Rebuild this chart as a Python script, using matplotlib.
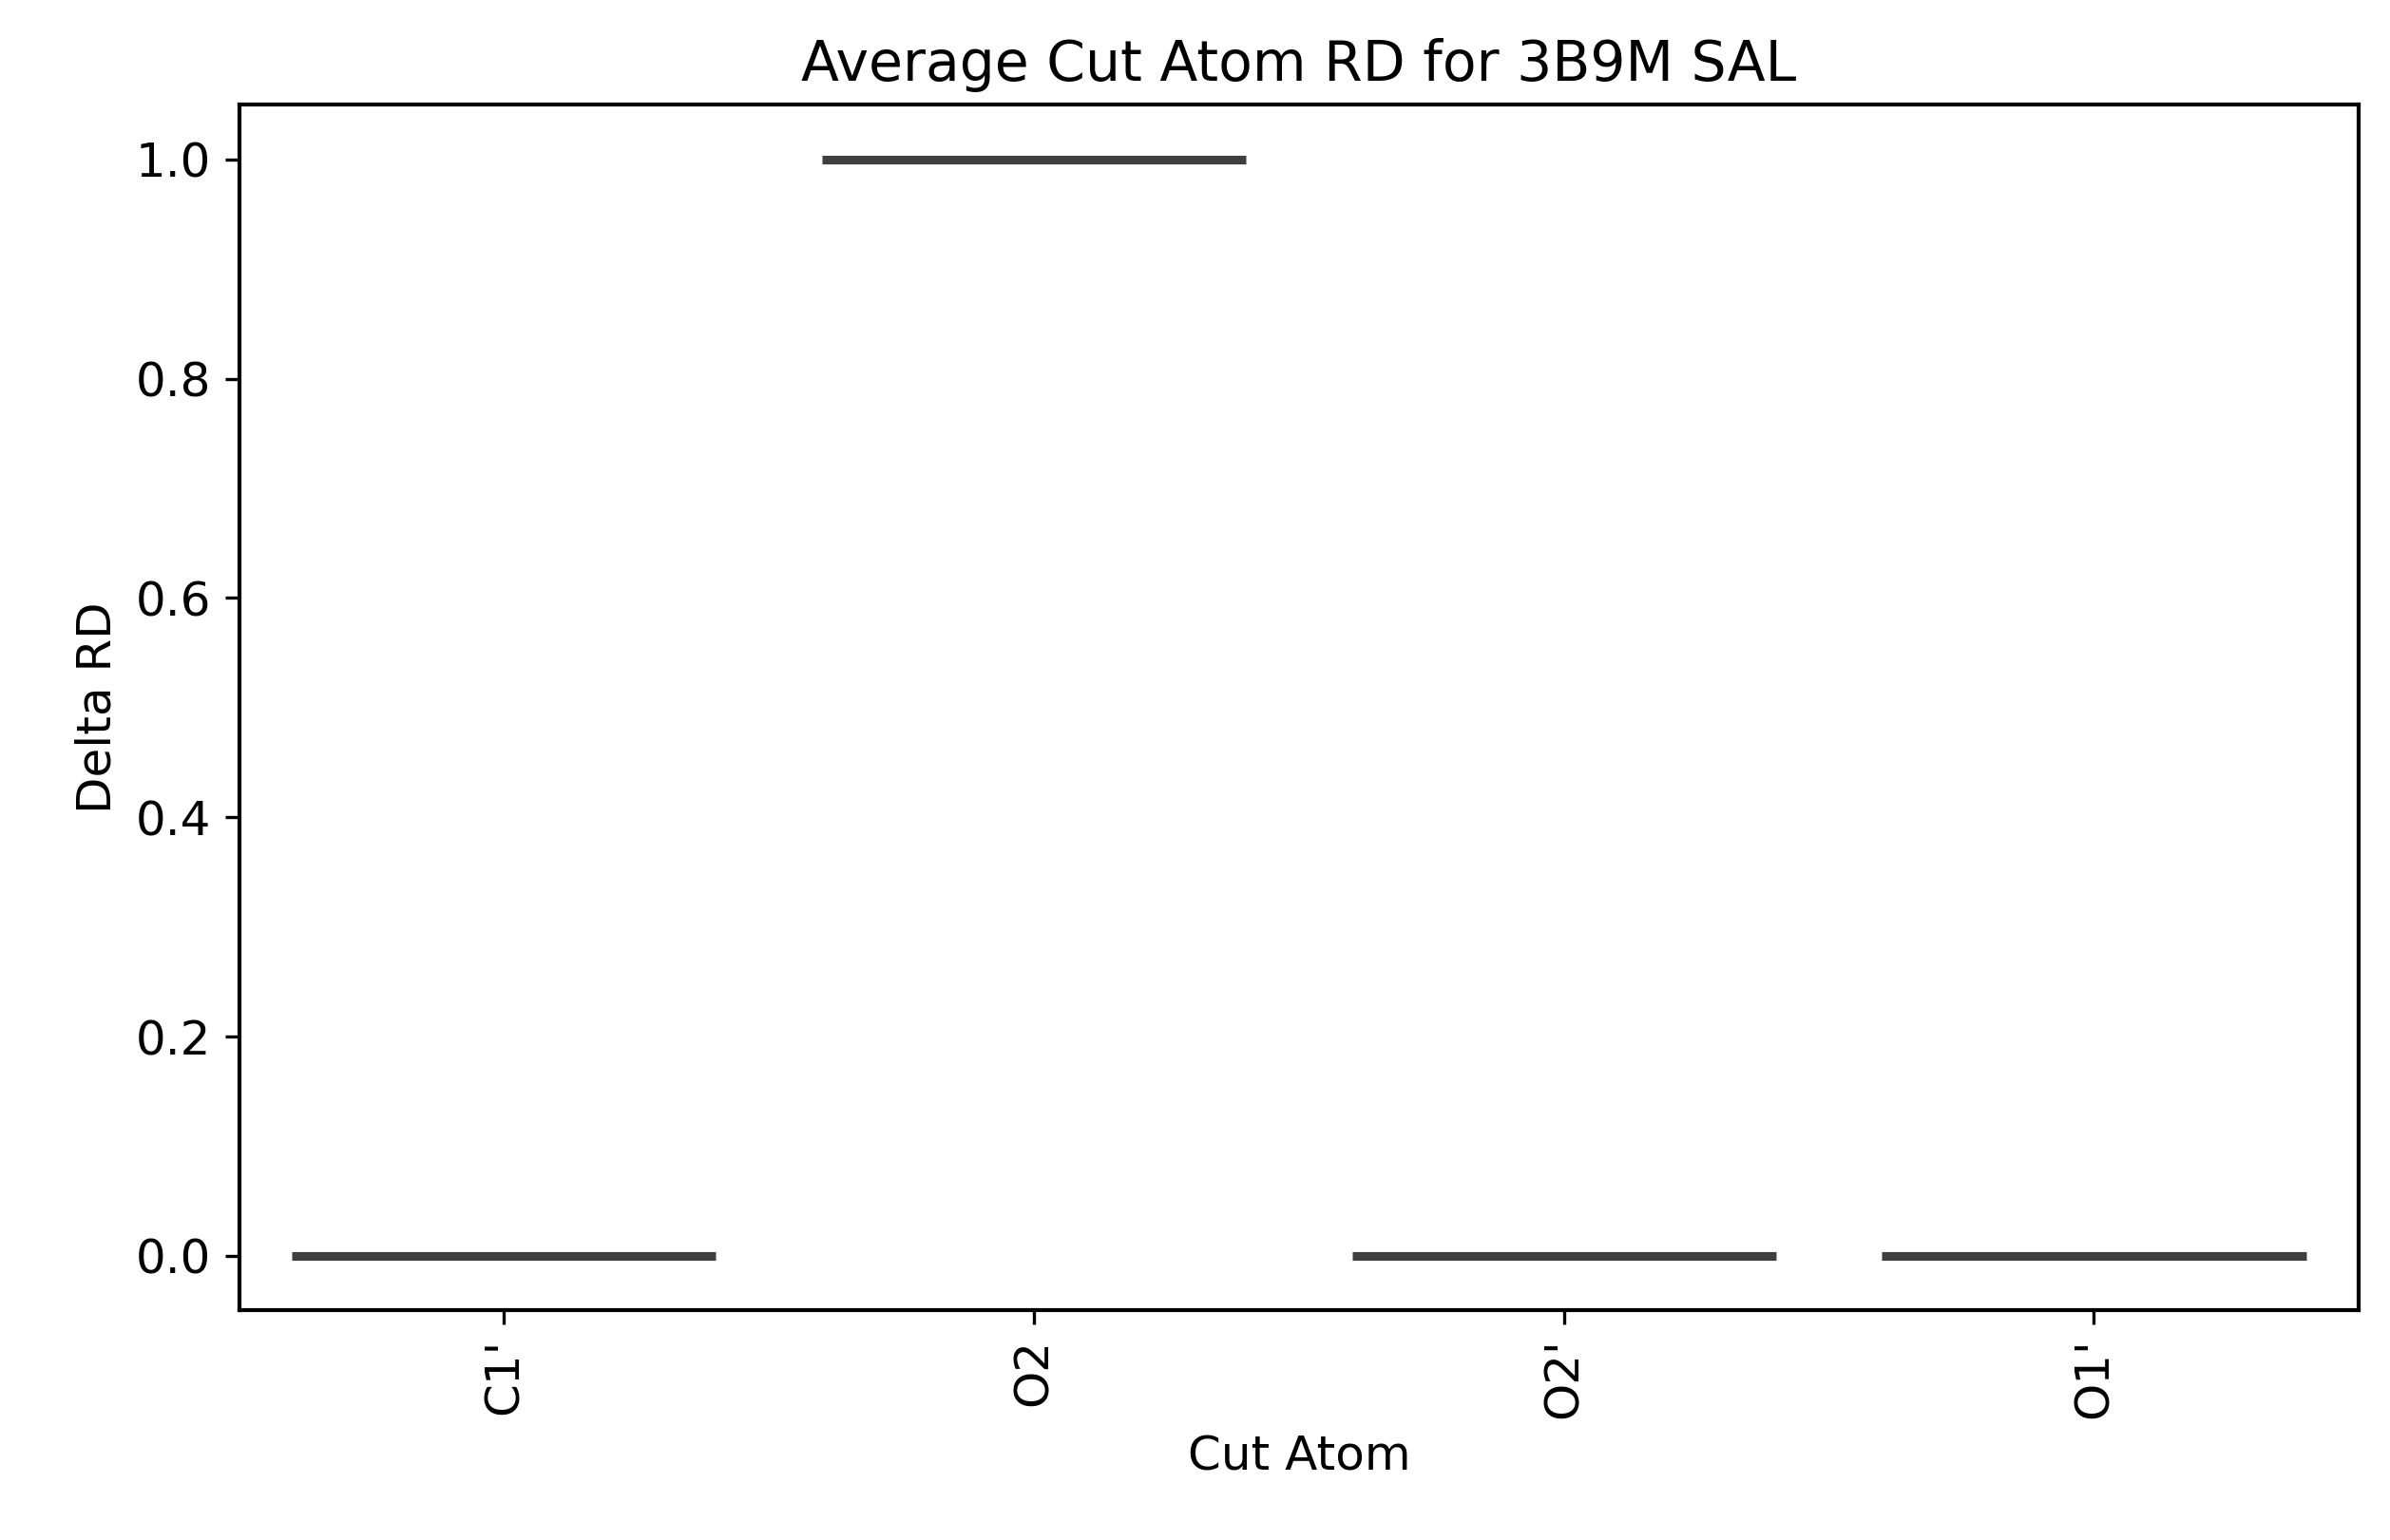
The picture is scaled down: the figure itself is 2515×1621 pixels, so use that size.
import matplotlib
matplotlib.use('Agg')
import matplotlib.pyplot as plt
import numpy as np

atoms = ["C1'", "O2", "O2'", "O1'"]
delta_rd = [0.0, 1.0, 0.0, 0.0]

fig = plt.figure(figsize=(2515/300, 1621/300), dpi=300)
ax = fig.add_axes([0.100, 0.149, 0.887, 0.783])

x = np.arange(len(atoms))
# single value per group -> boxplot collapses to its median line
ax.hlines(delta_rd, x - 0.4, x + 0.4, color='#3f3f3f', linewidth=2.2)

ax.set_xlim(-0.5, len(atoms) - 0.5)
ax.set_ylim(-0.05, 1.05)
ax.set_xticks(x)
ax.set_xticklabels(atoms, rotation=90)
ax.set_yticks([0.0, 0.2, 0.4, 0.6, 0.8, 1.0])
ax.tick_params(labelsize=12)
ax.set_xlabel('Cut Atom', fontsize=12)
ax.set_ylabel('Delta RD', fontsize=12)
ax.set_title('Average Cut Atom RD for 3B9M SAL', fontsize=14)
for s in ax.spines.values():
    s.set_linewidth(1.0)

fig.savefig('out.png', dpi=300)
